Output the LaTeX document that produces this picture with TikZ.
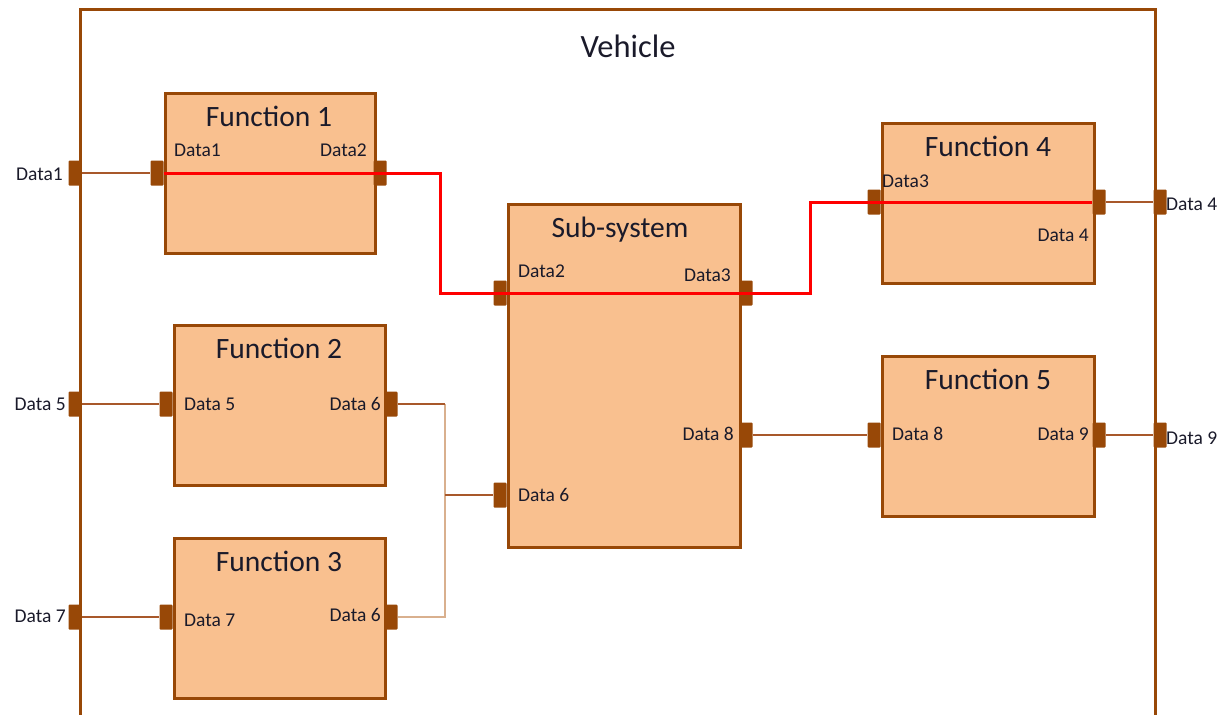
\documentclass[tikz,border=0pt]{standalone}
\usepackage{fontspec}
\setmainfont{Carlito}
\definecolor{peach}{HTML}{F9C08F}
\definecolor{brn}{HTML}{984807}
\definecolor{thinbrn}{HTML}{A8582A}
\definecolor{tanc}{HTML}{D9B08E}
\definecolor{txt}{HTML}{1A1A2A}
\begin{document}
\begin{tikzpicture}[x=1pt,y=-1pt,
  fbox/.style={draw=brn,line width=3.2pt,fill=peach,anchor=north west,inner sep=0pt},
  port/.style={fill=brn,minimum width=13pt,minimum height=25pt,inner sep=0pt,rounded corners=1pt},
  lbl/.style={font=\fontsize{19.5}{19.5}\selectfont,text=txt,inner sep=0pt},
  ttl/.style={font=\fontsize{29.5}{29.5}\selectfont,text=txt,inner sep=0pt,anchor=base},
  redline/.style={red,line width=3pt},
  thinline/.style={thinbrn,line width=1.4pt},
  tanline/.style={tanc,line width=1.6pt},
  frame/.style={brn,line width=3pt}]
\useasboundingbox (0,0) rectangle (1227,715);
% vehicle frame
\draw[frame] (80,720) -- (80,9) -- (1155,9) -- (1155,720);
\node[font=\fontsize{32.5}{32.5}\selectfont,text=txt,inner sep=0pt,anchor=base] (veh) at (628,57) {Vehicle};
% boxes
\node[fbox,minimum width=210pt,minimum height=160pt] (f1) at (164,92) {};
\node[fbox,minimum width=211pt,minimum height=160pt] (f2) at (173,324) {};
\node[fbox,minimum width=211pt,minimum height=160pt] (f3) at (173,537) {};
\node[fbox,minimum width=232pt,minimum height=343pt] (sub) at (507,203) {};
\node[fbox,minimum width=212pt,minimum height=160pt] (f4) at (881,122) {};
\node[fbox,minimum width=212pt,minimum height=160pt] (f5) at (881,355) {};
% titles
\node[ttl] (t1) at (269,126) {Function 1};
\node[ttl] (t2) at (279,358) {Function 2};
\node[ttl] (t3) at (279,571) {Function 3};
\node[ttl] (ts) at (620,237) {Sub-system};
\node[ttl] (t4) at (988,156) {Function 4};
\node[ttl] (t5) at (988,389) {Function 5};
% ports
\node[port] (v1) at (75,173) {};
\node[port] (v5) at (75,404) {};
\node[port] (v7) at (75,617) {};
\node[port] (v4) at (1160,202) {};
\node[port] (v9) at (1160,435) {};
\node[port] (f1L) at (157,173) {};
\node[port] (f1R) at (380,173) {};
\node[port] (f2L) at (166,404) {};
\node[port] (f2R) at (391,404) {};
\node[port] (f3L) at (166,617) {};
\node[port] (f3R) at (391,617) {};
\node[port] (sL2) at (500,293) {};
\node[port] (sL6) at (500,495) {};
\node[port] (sR3) at (746,293) {};
\node[port] (sR8) at (746,435) {};
\node[port] (f4L) at (874,202) {};
\node[port] (f4R) at (1099,202) {};
\node[port] (f5L) at (874,435) {};
\node[port] (f5R) at (1099,435) {};
% connectors
\draw[thinline] (v1.east) -- (f1L.west);
\draw[thinline] (v5.east) -- (f2L.west);
\draw[thinline] (v7.east) -- (f3L.west);
\draw[thinline] (f4R.east) -- (v4.west);
\draw[thinline] (f5R.east) -- (v9.west);
\draw[thinline] (sR8.east) -- (f5L.west);
\coordinate (j) at (445,495);
\draw[tanline] (j |- f2R) -- (j |- f3R) -- (f3R.east);
\draw[thinline] (f2R.east) -- (j |- f2R);
\draw[thinline] (j) -- (sL6.west);
\draw[redline] (f1L.east) -- (f1R.center) -- ++(60,0) |- (sL2.center) -- (sR3.center) -- ++(64,0) |- (f4L.center) -- (f4R.west);
% labels
\node[lbl,anchor=east] (l1) at (63,174) {Data1};
\node[lbl,anchor=east] (l5) at (66,404) {Data 5};
\node[lbl,anchor=east] (l7) at (66,616) {Data 7};
\node[lbl,anchor=west] (l4) at (1166,204) {Data 4};
\node[lbl,anchor=west] (l9) at (1166,438) {Data 9};
\node[lbl,anchor=west] (a1) at (174,150) {Data1};
\node[lbl,anchor=east] (a2) at (367,150) {Data2};
\node[lbl,anchor=west] (b5) at (184,404) {Data 5};
\node[lbl,anchor=east] (b6) at (381,404) {Data 6};
\node[lbl,anchor=west] (c7) at (184,620) {Data 7};
\node[lbl,anchor=east] (c6) at (381,615) {Data 6};
\node[lbl,anchor=west] (s2) at (518,271) {Data2};
\node[lbl,anchor=east] (s3) at (731,275) {Data3};
\node[lbl,anchor=west] (s6) at (518,495) {Data 6};
\node[lbl,anchor=east] (s8) at (734,434) {Data 8};
\node[lbl,anchor=west] (d3) at (882,181) {Data3};
\node[lbl,anchor=east] (d4) at (1089,235) {Data 4};
\node[lbl,anchor=west] (e8) at (892,434) {Data 8};
\node[lbl,anchor=east] (e9) at (1089,434) {Data 9};
\end{tikzpicture}
\end{document}
